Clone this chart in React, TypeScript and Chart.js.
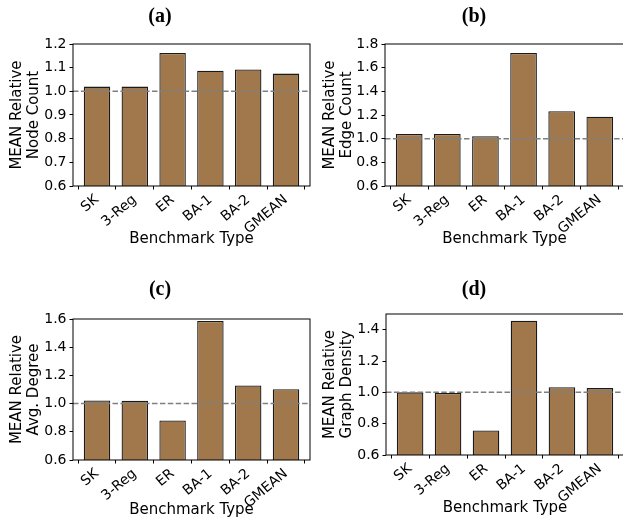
import { useEffect, useRef } from 'react';
import { Chart, registerables } from 'chart.js';

Chart.register(...registerables);

const categories = ['SK', '3-Reg', 'ER', 'BA-1', 'BA-2', 'GMEAN'];
const nodeCount = [1.02, 1.02, 1.162, 1.087, 1.092, 1.075];
const edgeCount = [1.04, 1.04, 1.02, 1.725, 1.232, 1.186];
const avgDegree = [1.022, 1.02, 0.881, 1.586, 1.128, 1.102];
const graphDensity = [1.0, 0.996, 0.757, 1.457, 1.032, 1.027];
const panelTitles = ['(a)', '(b)', '(c)', '(d)'];
const yTitles = [
  ['MEAN Relative', 'Node Count'],
  ['MEAN Relative', 'Edge Count'],
  ['MEAN Relative', 'Avg. Degree'],
  ['MEAN Relative', 'Graph Density'],
];
const yMins = [0.6, 0.6, 0.6, 0.6];
const yMaxs = [1.2, 1.8, 1.6, 1.5];
const ySteps = [0.1, 0.2, 0.2, 0.2];
const xTitle = 'Benchmark Type';
const referenceValue = 1.0;
const seriesList = [nodeCount, edgeCount, avgDegree, graphDensity];

const FONT = "'DejaVu Sans', sans-serif";
const BAR_COLOR = '#A0784B';

// layout per panel (page coordinates)
const panels = [
  { cx: 0, cy: 0, cw: 311, ch: 263, l: 73, t: 44, r: 310, b: 186, titleX: 160, titleY: 17, yTitlePad: 9, xTitlePad: 15 },
  { cx: 311, cy: 0, cw: 320, ch: 263, l: 385, t: 44, r: 624, b: 186, titleX: 474, titleY: 17, yTitlePad: 11, xTitlePad: 15 },
  { cx: 0, cy: 263, cw: 311, ch: 264, l: 73, t: 319, r: 310, b: 460, titleX: 160, titleY: 290, yTitlePad: 9, xTitlePad: 8 },
  { cx: 311, cy: 263, cw: 320, ch: 264, l: 386, t: 314, r: 624, b: 455, titleX: 474, titleY: 290, yTitlePad: 11, xTitlePad: 10 },
];

function Panel({ idx }: { idx: number }) {
  const ref = useRef<HTMLCanvasElement | null>(null);
  const p = panels[idx];
  useEffect(() => {
    if (!ref.current) return;
    const values = seriesList[idx];
    const overlay = {
      id: 'overlay' + idx,
      afterDatasetsDraw(chart: any) {
        const { ctx, chartArea } = chart;
        const ys = chart.scales.y;
        const yy = ys.getPixelForValue(referenceValue);
        ctx.save();
        ctx.strokeStyle = '#7f7f7f';
        ctx.lineWidth = 1.5;
        ctx.setLineDash([5.5, 2.4]);
        ctx.beginPath();
        ctx.moveTo(chartArea.left, yy);
        ctx.lineTo(chartArea.right, yy);
        ctx.stroke();
        ctx.setLineDash([]);
        ctx.strokeStyle = '#000';
        ctx.lineWidth = 1;
        ctx.strokeRect(chartArea.left, chartArea.top, chartArea.right - chartArea.left, chartArea.bottom - chartArea.top);
        ctx.fillStyle = '#000';
        ctx.font = "bold 20px 'Liberation Serif', serif";
        ctx.textAlign = 'center';
        ctx.textBaseline = 'middle';
        ctx.fillText(panelTitles[idx], p.titleX - p.cx, p.titleY - p.cy);
        ctx.restore();
      },
    };
    const chart = new Chart(ref.current, {
      type: 'bar',
      data: {
        datasets: [
          {
            data: values.map((v, i) => ({ x: i, y: v })),
            backgroundColor: BAR_COLOR,
            borderColor: '#1a1a1a',
            borderWidth: 1.3,
            borderSkipped: false,
            barPercentage: 0.7,
            categoryPercentage: 1,
          },
        ],
      },
      options: {
        animation: false,
        responsive: false,
        devicePixelRatio: 1,
        layout: { padding: { top: p.t - p.cy, right: p.cx + p.cw - p.r, left: 0, bottom: 0 } },
        plugins: { legend: { display: false }, tooltip: { enabled: false }, title: { display: false } },
        scales: {
          x: {
            type: 'linear',
            min: -0.635,
            max: 5.635,
            offset: false,
            afterBuildTicks: (axis: any) => {
              axis.ticks = categories.map((_, i) => ({ value: i }));
            },
            afterFit: (axis: any) => {
              axis.height = p.cy + p.ch - p.b;
            },
            ticks: {
              autoSkip: false,
              minRotation: 40,
              maxRotation: 40,
              padding: 2,
              color: '#000',
              font: { family: FONT, size: 14 },
              callback: (v: any) => categories[v] ?? '',
            },
            grid: { display: true, drawOnChartArea: false, drawTicks: true, tickLength: 3.5, tickColor: '#000' },
            border: { display: false },
            title: {
              display: true,
              text: xTitle,
              color: '#000',
              font: { family: FONT, size: 15 },
              padding: { top: 0, bottom: p.xTitlePad },
            },
          },
          y: {
            type: 'linear',
            min: yMins[idx],
            max: yMaxs[idx],
            afterBuildTicks: (axis: any) => {
              const out: any[] = [];
              for (let k = 0; yMins[idx] + k * ySteps[idx] <= yMaxs[idx] + 1e-9; k++) {
                out.push({ value: Math.round((yMins[idx] + k * ySteps[idx]) * 1e6) / 1e6 });
              }
              axis.ticks = out;
            },
            afterFit: (axis: any) => {
              axis.width = p.l - p.cx;
            },
            ticks: {
              padding: 3,
              color: '#000',
              font: { family: FONT, size: 14 },
              callback: (v: any) => Number(v).toFixed(1),
            },
            grid: { display: true, drawOnChartArea: false, drawTicks: true, tickLength: 3.5, tickColor: '#000' },
            border: { display: false },
            title: {
              display: true,
              text: yTitles[idx],
              color: '#000',
              font: { family: FONT, size: 15, lineHeight: 1.1 },
              padding: { top: p.yTitlePad, bottom: 0 },
            },
          },
        },
      },
      plugins: [overlay],
    } as any);
    return () => chart.destroy();
  }, [idx]);
  return (
    <canvas
      ref={ref}
      width={p.cw}
      height={p.ch}
      style={{ position: 'absolute', left: p.cx, top: p.cy, width: p.cw, height: p.ch }}
    />
  );
}

export default function App() {
  return (
    <div
      style={{
        position: 'absolute',
        left: 0,
        top: 0,
        width: 623,
        height: 527,
        overflow: 'hidden',
        background: '#fff',
      }}
    >
      {[0, 1, 2, 3].map((i) => (
        <Panel key={i} idx={i} />
      ))}
    </div>
  );
}
